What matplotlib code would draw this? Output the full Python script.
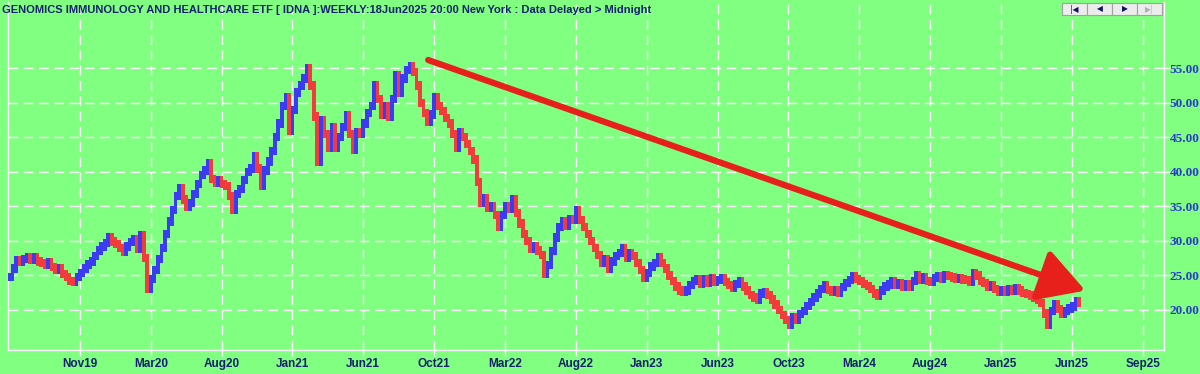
import matplotlib
matplotlib.use('Agg')
import matplotlib.pyplot as plt
from matplotlib.patches import Rectangle
import numpy as np

# weekly closes (week 0 ~ late Aug 2019, last week 18 Jun 2025)
closes = [
    24.8, 26.0, 27.2, 27.0, 27.4, 27.6, 27.3, 27.7, 27.0, 26.8,
    26.5, 26.9, 26.2, 25.8, 26.0, 25.2, 24.8, 24.2, 24.0, 24.8,
    25.4, 26.0, 26.6, 27.0, 27.8, 28.6, 29.2, 29.7, 30.5, 29.9,
    29.6, 29.0, 28.4, 29.2, 29.8, 30.2, 28.8, 30.8, 27.5, 23.0,
    24.5, 25.8, 27.4, 29.0, 31.0, 32.8, 34.5, 36.5, 37.7, 36.0,
    35.0, 35.5, 36.8, 38.2, 39.5, 40.2, 41.3, 39.0, 38.4, 38.8,
    38.2, 38.0, 36.5, 34.5, 36.8, 37.5, 38.8, 40.0, 40.5, 42.3,
    40.5, 38.0, 40.2, 41.5, 43.0, 45.0, 47.0, 49.5, 50.8, 46.0,
    49.0, 51.5, 52.5, 53.5, 55.0, 52.5, 48.0, 41.5, 47.5, 45.5,
    43.5, 46.5, 43.5, 45.0, 46.5, 48.2, 45.5, 43.2, 45.8, 45.5,
    47.0, 48.5, 49.5, 52.5, 50.5, 48.2, 49.5, 48.0, 50.5, 54.0,
    51.5, 53.5, 54.8, 55.3, 54.5, 52.5, 50.0, 48.5, 47.2, 48.3,
    50.8, 49.5, 48.8, 47.8, 47.0, 45.5, 43.5, 45.8, 45.0, 44.0,
    43.0, 41.8, 38.5, 35.5, 36.2, 34.8, 35.0, 33.8, 32.0, 33.8,
    35.0, 34.6, 36.0, 34.0, 32.5, 31.0, 30.0, 28.8, 29.2, 28.6,
    28.0, 25.2, 26.5, 28.5, 30.5, 32.0, 32.8, 32.2, 33.2, 33.0,
    34.4, 33.0, 32.0, 31.0, 30.0, 29.0, 28.0, 26.8, 27.3, 26.0,
    27.0, 27.8, 28.2, 29.0, 27.6, 28.2, 27.8, 26.8, 25.8, 24.6,
    25.4, 26.3, 26.8, 27.6, 26.8, 26.0, 25.0, 24.2, 23.4, 22.8,
    22.6, 22.8, 23.6, 24.2, 24.5, 23.8, 24.4, 23.9, 24.6, 24.0,
    24.3, 24.6, 24.0, 23.6, 23.2, 23.8, 24.2, 23.4, 22.8, 22.2,
    21.8, 21.4, 22.4, 22.6, 22.2, 21.5, 20.8, 20.0, 19.3, 18.5,
    17.8, 18.9, 18.6, 19.4, 19.8, 20.6, 21.2, 21.8, 22.4, 23.0,
    23.6, 22.9, 22.6, 22.8, 22.5, 23.3, 23.9, 24.3, 24.9, 24.5,
    24.2, 23.8, 23.5, 23.0, 22.4, 22.0, 22.8, 23.4, 23.7, 24.1,
    23.6, 23.9, 23.4, 23.8, 23.3, 24.2, 25.0, 24.4, 24.8, 24.2,
    24.0, 24.6, 24.9, 24.5, 25.1, 24.9, 24.7, 24.5, 24.6, 24.4,
    24.3, 24.1, 25.4, 25.0, 24.2, 23.9, 23.4, 23.6, 23.0, 22.6,
    22.9, 22.6, 23.0, 22.7, 23.1, 22.8, 22.5, 22.3, 22.1, 21.8,
    21.5, 21.0, 19.5, 17.8, 19.8, 20.8, 20.1, 19.5, 19.8, 20.2,
    20.5, 21.3, 21.0,
]

tick_weeks = [20, 40, 60, 80, 100, 120, 140, 160, 180, 200, 220, 240, 260, 280, 300, 320]
tick_labels = ['Nov19', 'Mar20', 'Aug20', 'Jan21', 'Jun21', 'Oct21', 'Mar22', 'Aug22',
               'Jan23', 'Jun23', 'Oct23', 'Mar24', 'Aug24', 'Jan25', 'Jun25', 'Sep25']
price_ticks = [20, 25, 30, 35, 40, 45, 50, 55]

# trend arrow drawn on the chart (week, price)
arrow_start = (118.3, 56.2)
arrow_end = (303.8, 22.8)

title = ('GENOMICS IMMUNOLOGY AND HEALTHCARE ETF [ IDNA ]:WEEKLY:18Jun2025 20:00 '
         'New York : Data Delayed > Midnight')

bg = '#80ff80'
blue = '#3b3bf2'
red = '#f23b3b'
navy = '#152070'

W, H = 1200, 374
fig = plt.figure(figsize=(W / 100, H / 100), dpi=100, facecolor=bg)
ax = fig.add_axes([8 / W, 24 / H, (1164 - 8) / W, (372 - 24) / H])
ax.set_facecolor(bg)

c = np.array(closes)
prev = np.concatenate([[c[0]], c[:-1]])
lo = np.minimum(prev, c) - 0.6
hi = np.maximum(prev, c) + 0.6
cols = [blue if c[i] >= prev[i] else red for i in range(len(c))]
x = np.arange(len(c))
ax.bar(x, hi - lo, bottom=lo, width=1.05, color=cols, linewidth=0,
       antialiased=False, zorder=3)

ax.set_xlim(-0.3, 326)
ax.set_ylim(14.2, 64.6)

ax.set_xticks(tick_weeks)
ax.set_xticklabels(tick_labels)
ax.set_yticks(price_ticks)
ax.set_yticklabels(['%.2f' % v for v in price_ticks])
ax.yaxis.tick_right()

ax.grid(True, color='white', linestyle=(0, (7, 4)), linewidth=1.0, zorder=1)
ax.tick_params(axis='both', direction='out', color='white', length=4, width=1)
for lab in ax.get_xticklabels():
    lab.set_fontfamily('Liberation Sans')
    lab.set_fontweight('bold')
    lab.set_fontsize(8.5)
    lab.set_color(navy)
for lab in ax.get_yticklabels():
    lab.set_fontfamily('Liberation Serif')
    lab.set_fontweight('bold')
    lab.set_fontsize(9.5)
    lab.set_color('#2a3ad0')
ax.tick_params(axis='x', pad=2)
ax.tick_params(axis='y', pad=0)

for s in ['left', 'bottom', 'right']:
    ax.spines[s].set_color('white')
    ax.spines[s].set_linewidth(1)
ax.spines['top'].set_visible(False)

ax.annotate('', xy=arrow_end, xytext=arrow_start, zorder=5,
            arrowprops=dict(arrowstyle='-|>,head_length=1.4,head_width=0.8',
                            mutation_scale=20, color='#e8201c', lw=4.5,
                            shrinkA=0, shrinkB=0))

fig.text(2 / W, 1 - 10 / H, title, ha='left', va='center', fontsize=8.0,
         fontweight='bold', family='Liberation Sans', color=navy)

# navigation buttons at top right
btn_x = [1062, 1087, 1112, 1137]
btn_txt = ['|◀', '◀', '▶', '▶|']
for i, bx in enumerate(btn_x):
    fig.patches.append(Rectangle((bx / W, 1 - 15 / H), 25 / W, 12 / H,
                                 transform=fig.transFigure, facecolor='#ececec',
                                 edgecolor='#a0a0a0', linewidth=0.8))
    fig.text((bx + 12.5) / W, 1 - 9 / H, btn_txt[i], ha='center', va='center',
             fontsize=5.5, color='#b0b0b0' if i == 3 else '#101060',
             family='DejaVu Sans')

fig.savefig('out.png', dpi=100, facecolor=bg)
